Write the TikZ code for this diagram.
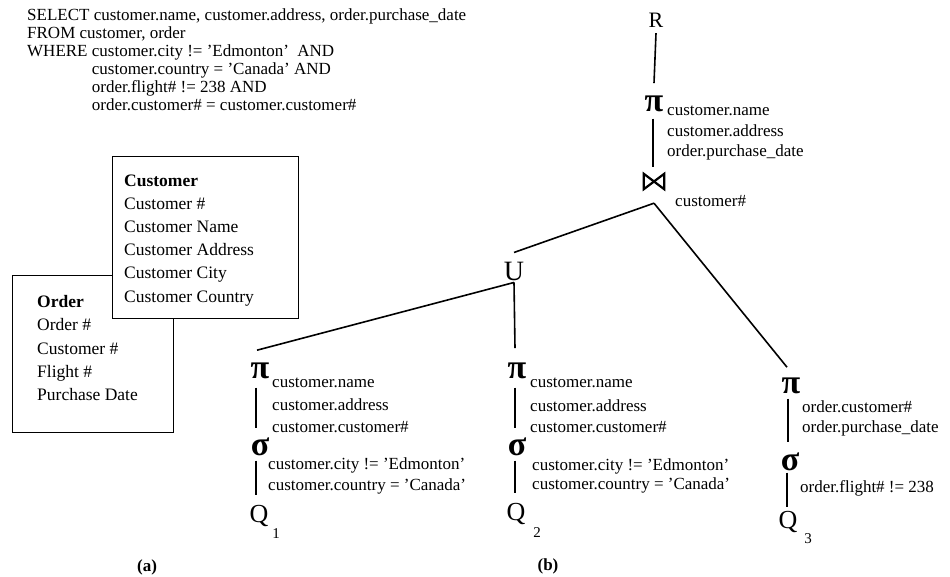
\documentclass[tikz,border=0pt]{standalone}
\usepackage{fontspec}
\setmainfont{Liberation Serif}
\begin{document}
\begin{tikzpicture}[x=1pt,y=-1pt,
  txt/.style={inner sep=0pt, anchor=base west, font=\fontsize{17}{20}\selectfont},
  boxtxt/.style={inner sep=0pt, anchor=base west, font=\fontsize{17.5}{20}\selectfont},
  glyph/.style={inner sep=0pt, anchor=base},
  bigop/.style={glyph, font=\bfseries\fontsize{34}{36}\selectfont},
  leaf/.style={glyph, font=\fontsize{26}{28}\selectfont},
  idx/.style={glyph, font=\fontsize{15}{16}\selectfont},
  edge/.style={line width=1.6pt},
  frame/.style={draw, line width=1.4pt, inner sep=0pt, anchor=north west, fill=white},
  tag/.style={inner sep=0pt, anchor=base, font=\bfseries\fontsize{17}{20}\selectfont}]
\useasboundingbox (0,0) rectangle (950,577);

% ---------- SQL query ----------
\node[txt] (q1) at (27,20.5) {SELECT customer.name, customer.address, order.purchase\_date};
\node[txt] (q2) at (27,38.6) {FROM customer, order};
\node[txt] (q3) at (27,56.7) {WHERE customer.city != 'Edmonton'\ \ AND};
\node[txt] (q4) at (27,74.8) {\phantom{WHERE }customer.country = 'Canada' AND};
\node[txt] (q5) at (27,92.9) {\phantom{WHERE }order.flight\# != 238 AND};
\node[txt] (q6) at (27,111) {\phantom{WHERE }order.customer\# = customer.customer\#};

% ---------- relation schemas (a) ----------
\node[frame, minimum width=161pt, minimum height=157pt] (orderbox) at (12,275) {};
\node[boxtxt] (o1) at (37,307.5) {\bfseries Order};
\node[boxtxt] (o2) at (37,330.8) {Order \#};
\node[boxtxt] (o3) at (37,354.1) {Customer \#};
\node[boxtxt] (o4) at (37,377.4) {Flight \#};
\node[boxtxt] (o5) at (37,400.7) {Purchase Date};

\node[frame, minimum width=186pt, minimum height=162pt] (custbox) at (112,156) {};
\node[boxtxt] (c1) at (124,187) {\bfseries Customer};
\node[boxtxt] (c2) at (124,210) {Customer \#};
\node[boxtxt] (c3) at (124,233) {Customer Name};
\node[boxtxt] (c4) at (124,256) {Customer Address};
\node[boxtxt] (c5) at (124,279) {Customer City};
\node[boxtxt] (c6) at (124,302) {Customer Country};

\node[tag] (la) at (147,571) {(a)};

% ---------- query tree (b) ----------
\node[glyph, font=\fontsize{22}{24}\selectfont] (R) at (656,28) {R};

\node[bigop] (p0) at (654,112) {π};
\node[txt] (p0a) at (667,115.5) {customer.name};
\node[txt] (p0b) at (667,136.5) {customer.address};
\node[txt] (p0c) at (667,156.5) {order.purchase\_date};

\node[minimum width=20pt, minimum height=15pt, inner sep=0pt] (jn) at (654,181.5) {};
\draw[line width=2.2pt, line join=miter]
  (jn.north west) -- (jn.south east) -- (jn.north east) -- (jn.south west) -- cycle;
\node[txt] (jnc) at (675,207) {customer\#};
\coordinate (apex) at ([yshift=-14pt]jn.south);

\node[glyph, font=\fontsize{28}{30}\selectfont] (U) at (514,280) {U};

% left branch
\node[bigop] (p1) at (260,378) {π};
\node[txt] (p1a) at (272,387.5) {customer.name};
\node[txt] (p1b) at (272,410.5) {customer.address};
\node[txt] (p1c) at (272,432.5) {customer.customer\#};
\node[bigop] (s1) at (260,455) {σ};
\node[txt] (s1a) at (268,469.5) {customer.city != 'Edmonton'};
\node[txt] (s1b) at (268,490.5) {customer.country = 'Canada'};
\node[leaf] (Q1) at (259,522) {Q};
\node[idx] (Q1i) at (276,538) {1};

% middle branch
\node[bigop] (p2) at (517,378) {π};
\node[txt] (p2a) at (530,387.5) {customer.name};
\node[txt] (p2b) at (530,411) {customer.address};
\node[txt] (p2c) at (530,432.5) {customer.customer\#};
\node[bigop] (s2) at (517,455) {σ};
\node[txt] (s2a) at (532,470.5) {customer.city != 'Edmonton'};
\node[txt] (s2b) at (532,489.5) {customer.country = 'Canada'};
\node[leaf] (Q2) at (516,520) {Q};
\node[idx] (Q2i) at (537,537) {2};

% right branch
\node[bigop] (p3) at (791,393) {π};
\node[txt] (p3a) at (802,412.5) {order.customer\#};
\node[txt] (p3b) at (802,432.5) {order.purchase\_date};
\node[bigop] (s3) at (790,470) {σ};
\node[txt] (s3a) at (800,492.5) {order.flight\# != 238};
\node[leaf] (Q3) at (788,528) {Q};
\node[idx] (Q3i) at (808,543) {3};

\node[tag] (lb) at (548,570) {(b)};

% ---------- edges ----------
\draw[edge] ([yshift=-5pt]R.south) -- ([yshift=13pt]p0.north);
\draw[edge] ([xshift=-1pt,yshift=-6pt]p0.south) -- ([xshift=-1pt,yshift=7pt]jn.north);
\draw[edge] (apex) -- ([yshift=9pt]U.north);
\draw[edge] (apex) -- ([xshift=-4pt,yshift=10pt]p3.north);
\draw[edge] ([yshift=-2pt]U.south) -- ([xshift=-3pt,yshift=12pt]p1.north);
\draw[edge] ([yshift=-2pt]U.south) -- ([xshift=-2pt,yshift=14pt]p2.north);

\draw[edge] ([xshift=-4pt,yshift=-9pt]p1.south) -- ([xshift=-4pt,yshift=9pt]s1.north);
\draw[edge] ([xshift=-4pt,yshift=-5pt]s1.south) -- ([xshift=-3pt,yshift=10pt]Q1.north);
\draw[edge] ([xshift=-2pt,yshift=-9pt]p2.south) -- ([xshift=-2pt,yshift=9pt]s2.north);
\draw[edge] ([xshift=-2pt,yshift=-5pt]s2.south) -- ([xshift=-1pt,yshift=10pt]Q2.north);
\draw[edge] ([xshift=-3pt,yshift=-5pt]p3.south) -- ([xshift=-2pt,yshift=10pt]s3.north);
\draw[edge] ([xshift=-3pt,yshift=-2pt]s3.south) -- ([xshift=-1pt,yshift=4pt]Q3.north);
\end{tikzpicture}
\end{document}
